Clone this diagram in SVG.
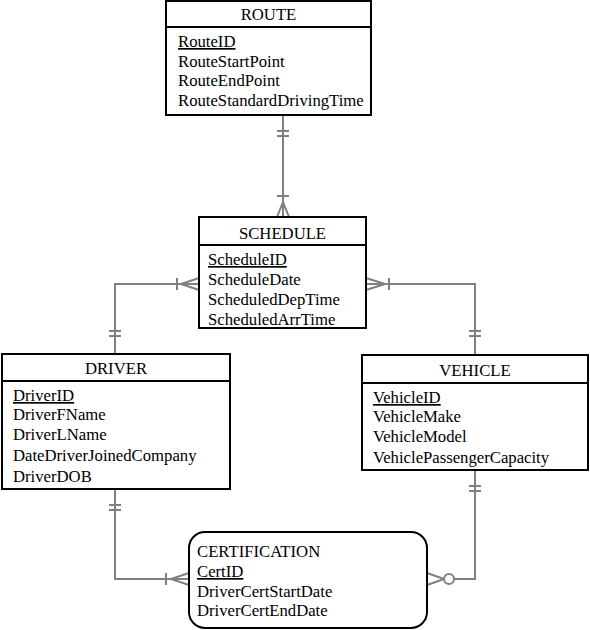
<svg xmlns="http://www.w3.org/2000/svg" width="590" height="630" viewBox="0 0 590 630">
<style>
.box{fill:#fff;stroke:#000;stroke-width:2}
.t{font-family:"Liberation Serif","Times New Roman",serif;font-size:16.7px;fill:#000}
.h{text-anchor:middle}
.u{text-decoration:underline}
.c{fill:none;stroke:#808080;stroke-width:2}
</style>
<rect width="590" height="630" fill="#fff"/>
<g id="connectors" class="c">
<!-- ROUTE - SCHEDULE -->
<path d="M283 116V217"/>
<path d="M277 131H289M277 136H289"/>
<path d="M277 196H289"/>
<path d="M283 202L277 217M283 202L289 217"/>
<!-- SCHEDULE - DRIVER -->
<path d="M199 284H115V354"/>
<path d="M177 278V290"/>
<path d="M181 284L199 278M181 284L199 290"/>
<path d="M109 331H121M109 336H121"/>
<!-- SCHEDULE - VEHICLE -->
<path d="M366 284H475V355"/>
<path d="M389 278V290"/>
<path d="M385 284L366 278M385 284L366 290"/>
<path d="M469 331H481M469 336H481"/>
<!-- DRIVER - CERTIFICATION -->
<path d="M115 489V579H189"/>
<path d="M109 505H121M109 510H121"/>
<path d="M166 573V585"/>
<path d="M171 579L189 573M171 579L189 585"/>
<!-- VEHICLE - CERTIFICATION -->
<path d="M475 470V579H454"/>
<path d="M469 486H481M469 491H481"/>
<circle cx="449" cy="579" r="5"/>
<path d="M444 579L427 573M444 579L427 585"/>
</g>
<g id="route">
<rect class="box" x="166" y="1" width="205" height="114"/>
<line x1="166" y1="27" x2="371" y2="27" stroke="#000" stroke-width="2"/>
<text class="t h" x="268.5" y="20">ROUTE</text>
<text class="t u" x="178" y="47">RouteID</text>
<text class="t" x="178" y="67">RouteStartPoint</text>
<text class="t" x="178" y="86">RouteEndPoint</text>
<text class="t" x="178" y="106">RouteStandardDrivingTime</text>
</g>
<g id="schedule">
<rect class="box" x="199" y="217" width="167" height="111"/>
<line x1="199" y1="245" x2="366" y2="245" stroke="#000" stroke-width="2"/>
<text class="t h" x="282.5" y="239">SCHEDULE</text>
<text class="t u" x="208" y="265">ScheduleID</text>
<text class="t" x="208" y="285">ScheduleDate</text>
<text class="t" x="208" y="305">ScheduledDepTime</text>
<text class="t" x="208" y="325">ScheduledArrTime</text>
</g>
<g id="driver">
<rect class="box" x="2" y="354" width="228" height="135"/>
<line x1="2" y1="381" x2="230" y2="381" stroke="#000" stroke-width="2"/>
<text class="t h" x="116" y="374">DRIVER</text>
<text class="t u" x="13" y="401">DriverID</text>
<text class="t" x="13" y="420">DriverFName</text>
<text class="t" x="13" y="440">DriverLName</text>
<text class="t" x="13" y="461">DateDriverJoinedCompany</text>
<text class="t" x="13" y="482">DriverDOB</text>
</g>
<g id="vehicle">
<rect class="box" x="362" y="355" width="226" height="115"/>
<line x1="362" y1="383" x2="588" y2="383" stroke="#000" stroke-width="2"/>
<text class="t h" x="475" y="376">VEHICLE</text>
<text class="t u" x="373" y="403">VehicleID</text>
<text class="t" x="373" y="422">VehicleMake</text>
<text class="t" x="373" y="442">VehicleModel</text>
<text class="t" x="373" y="463">VehiclePassengerCapacity</text>
</g>
<g id="certification">
<rect class="box" x="189" y="532" width="238" height="96" rx="16" ry="16"/>
<text class="t" x="197" y="557">CERTIFICATION</text>
<text class="t u" x="197" y="577">CertID</text>
<text class="t" x="197" y="597">DriverCertStartDate</text>
<text class="t" x="197" y="616">DriverCertEndDate</text>
</g>
</svg>
